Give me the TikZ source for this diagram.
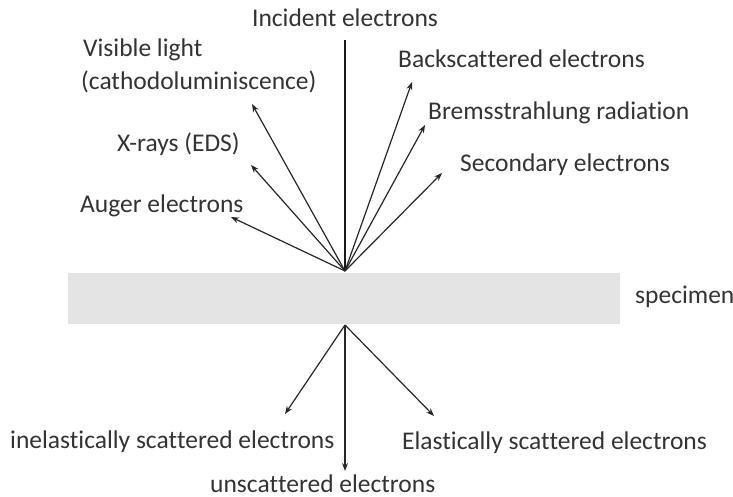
\documentclass[tikz,border=0pt]{standalone}
\usepackage{fontspec}
\setmainfont{Carlito}[Ligatures=NoCommon]
\usetikzlibrary{arrows.meta}
\newcommand\nolgx{\kern0pt}
\definecolor{txt}{HTML}{333333}
\definecolor{spec}{HTML}{E4E4E4}
\begin{document}
\begin{tikzpicture}[x=1pt,y=-1pt,
  lbl/.style={inner sep=0pt,text=txt,font=\fontsize{25.5}{30}\selectfont},
  ray/.style={draw=black!85,line width=1.2pt,-{Stealth[length=8pt,width=6pt]}},
  beam/.style={draw=black!90,line width=2pt}]
\useasboundingbox (0,0) rectangle (733,497);
\fill[spec] (68,273) rectangle (620,324);
\node[lbl,anchor=base west] (specimen) at (635,303) {specimen};
\coordinate (src) at (345,271);
\coordinate (bsrc) at (345,325);
\coordinate (top) at (345,40);
% labels
\node[lbl,anchor=base] (inc) at (345,27) {Incident electrons};
\node[lbl,anchor=base west] (vis1) at (83,57) {Visible light};
\node[lbl,anchor=base west] (vis2) at (81,90) {(cathodoluminiscence)};
\node[lbl,anchor=base west] (xray) at (117,152) {X-rays (EDS)};
\node[lbl,anchor=base west] (auger) at (80,212) {Auger electrons};
\node[lbl,anchor=base west] (back) at (398,68) {Backscat\nolgx tered electrons};
\node[lbl,anchor=base west] (brems) at (428,120) {Bremsstrahlung radiation};
\node[lbl,anchor=base west] (sec) at (460,172) {Secondary electrons};
\node[lbl,anchor=base west] (inel) at (10,448) {inelastically scat\nolgx tered electrons};
\node[lbl,anchor=base west] (el) at (402,449) {Elastically scat\nolgx tered electrons};
\node[lbl,anchor=base west] (unsc) at (210,492) {unscat\nolgx tered electrons};
% tips
\coordinate (tvis) at (252,104);
\coordinate (txray) at (251,165);
\coordinate (tauger) at (231,217);
\coordinate (tback) at (412,82);
\coordinate (tbrems) at (425,125);
\coordinate (tsec) at (442,173);
\coordinate (tinel) at (285,414);
\coordinate (tunsc) at (345,471);
\coordinate (tel) at (434,416);
% connectors
\draw[beam] (top) -- (src);
\foreach \t in {tvis,txray,tauger,tback,tbrems,tsec}
  \draw[ray] (src) -- (\t);
\foreach \t in {tinel,tunsc,tel}
  \draw[ray] (bsrc) -- (\t);
\end{tikzpicture}
\end{document}
